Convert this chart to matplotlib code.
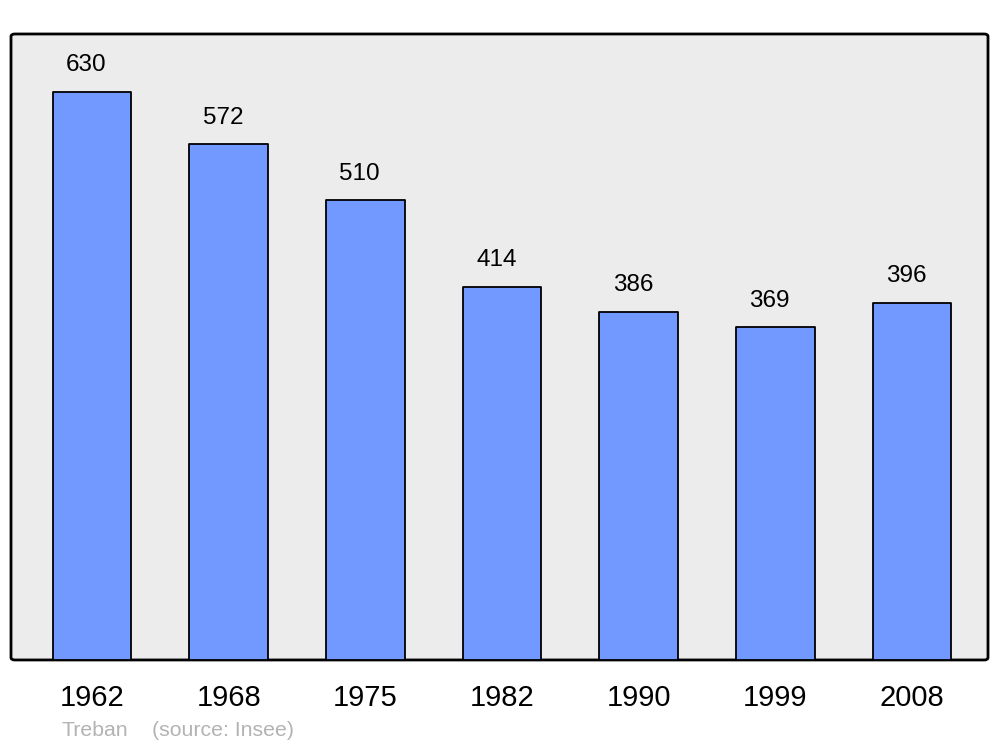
import matplotlib.pyplot as plt
from matplotlib.patches import FancyBboxPatch

plt.rcParams['font.family'] = ['Liberation Sans', 'DejaVu Sans']

years = ['1962', '1968', '1975', '1982', '1990', '1999', '2008']
population = [630, 572, 510, 414, 386, 369, 396]

fig = plt.figure(figsize=(10, 7.47), dpi=100)
ax = fig.add_axes([0.011, 0.1165, 0.977, 0.838])
ax.set_facecolor('none')

# fond gris aux coins arrondis
frame = FancyBboxPatch((0, 0), 1, 1, boxstyle='round,pad=0,rounding_size=0.004',
                       transform=ax.transAxes, facecolor='#ececec',
                       edgecolor='black', linewidth=2, zorder=0, clip_on=False)
ax.add_patch(frame)

x = list(range(len(years)))
bars = ax.bar(x, population, width=0.575, color='#7299ff', edgecolor='black',
              linewidth=1.3, zorder=2)
for b in bars:
    b.set_joinstyle('round')

for i, v in zip(x, population):
    ax.annotate(str(v), (i, v), xytext=(-4, 19), textcoords='offset points',
                ha='center', va='center', fontsize=17.5)

ax.set_xlim(-0.593, 6.556)
ax.set_ylim(0, 694)
ax.set_xticks(x)
ax.set_xticklabels(years, fontsize=21)
ax.tick_params(axis='x', length=0, pad=17)
ax.set_yticks([])
for s in ax.spines.values():
    s.set_visible(False)

fig.text(0.061, 0.0225, 'Treban', color='#b3b3b3', fontsize=15.3, va='center')
fig.text(0.152, 0.0225, '(source: Insee)', color='#b3b3b3', fontsize=15.3, va='center')

fig.savefig('out.png', dpi=100)
